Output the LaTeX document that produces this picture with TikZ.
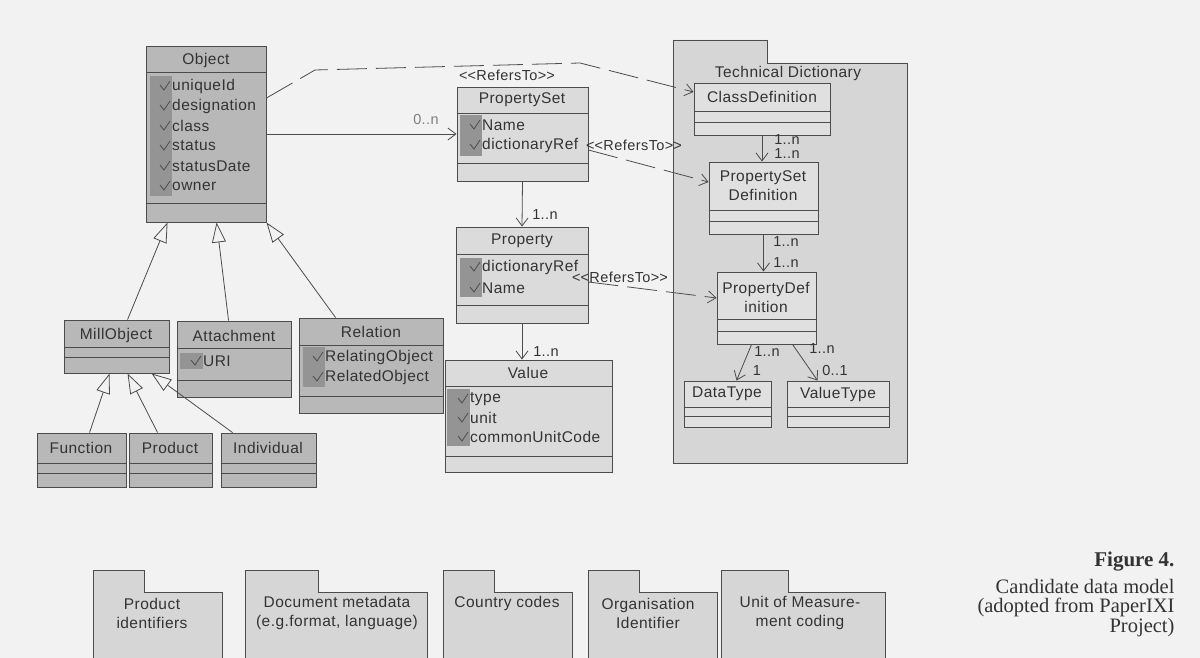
\documentclass[tikz,border=0pt]{standalone}
\usepackage{fontspec}
\setmainfont{Liberation Sans}[LetterSpace=3]
\newfontfamily\capfont{Liberation Serif}
\usetikzlibrary{arrows.meta}

\definecolor{bgcol}{gray}{0.95}
\definecolor{darkbox}{gray}{0.72}
\definecolor{lightbox}{gray}{0.86}
\definecolor{innerbox}{gray}{0.88}
\definecolor{pkgfill}{gray}{0.84}
\definecolor{stripcol}{gray}{0.58}
\definecolor{linecol}{gray}{0.3}
\definecolor{textcol}{gray}{0.2}

\tikzset{
    tick/.pic={\draw[linecol, line width=0.8pt] (-5,-1) -- (-1,4) -- (5,-5);}
}

\begin{document}
\begin{tikzpicture}[x=1pt, y=-1pt,
        box/.style={draw=linecol, line width=0.9pt, inner sep=0pt},
        clsname/.style={text=textcol, font=\fontsize{15.5}{19}\selectfont, inner sep=1pt, align=center},
        attr/.style={text=textcol, font=\fontsize{15.5}{18}\selectfont, anchor=west, inner sep=0pt},
        mult/.style={text=textcol, font=\fontsize{14.5}{16}\selectfont, inner sep=1pt},
        divider/.style={draw=linecol, line width=0.6pt},
        pkg/.style={draw=linecol, line width=0.9pt, fill=pkgfill},
        assoc/.style={draw=linecol, line width=0.8pt, -{Straight Barb[length=8pt, width=12pt]}},
        refers/.style={assoc, dash pattern=on 30pt off 9pt},
        inherit/.style={draw=linecol, line width=0.8pt, -{Triangle[open, length=20pt, width=14pt]}}]

        \clip (0,0) rectangle (1200,658);
        \fill[bgcol] (0,0) rectangle (1200,658);

        % packages
        \draw[pkg] (673,463) -- (673,40) -- (767,40) -- (767,63) -- (907,63) -- (907,463) -- cycle;
        \node[clsname] (techdict) at (788,73) {Technical Dictionary};

        \draw[pkg] (93,665) -- (93,570) -- (144,570) -- (144,592) -- (222,592) -- (222,665) -- cycle;
        \draw[pkg] (245,665) -- (245,570) -- (318,570) -- (318,592) -- (427,592) -- (427,665) -- cycle;
        \draw[pkg] (443,665) -- (443,570) -- (494,570) -- (494,592) -- (572,592) -- (572,665) -- cycle;
        \draw[pkg] (588,665) -- (588,570) -- (639,570) -- (639,592) -- (717,592) -- (717,665) -- cycle;
        \draw[pkg] (721,665) -- (721,570) -- (788,570) -- (788,592) -- (885,592) -- (885,665) -- cycle;

        \node[clsname] (prodid) at (152,613) {Product\\identifiers};
        \node[clsname] (docmeta) at (337,613) {Document metadata\\(e.g.format, language)};
        \node[clsname] (country) at (507,603) {Country codes};
        \node[clsname] (orgid) at (648,613) {Organisation\\Identifier};
        \node[clsname] (uom) at (800,613) {Unit of Measure-\\ment coding};

        % classes
        \node[box, fill=darkbox, minimum width=120, minimum height=176] (object) at (206,134) {};
        \node[box, fill=lightbox, minimum width=131, minimum height=94] (propset) at (522.5,134) {};
        \node[box, fill=lightbox, minimum width=132, minimum height=96] (property) at (522,275) {};
        \node[box, fill=lightbox, minimum width=167, minimum height=112] (value) at (528.5,416) {};

        \node[box, fill=innerbox, minimum width=136, minimum height=52] (classdef) at (762,109) {};
        \node[box, fill=innerbox, minimum width=109, minimum height=72] (psdef) at (763.5,198) {};
        \node[box, fill=innerbox, minimum width=99, minimum height=72] (pdef) at (766.5,308) {};
        \node[box, fill=innerbox, minimum width=87, minimum height=46] (datatype) at (727.5,404) {};
        \node[box, fill=innerbox, minimum width=102, minimum height=46] (valuetype) at (838,404) {};

        \node[box, fill=darkbox, minimum width=105, minimum height=53] (millobj) at (116.5,346.5) {};
        \node[box, fill=darkbox, minimum width=114, minimum height=76] (attach) at (234,359) {};
        \node[box, fill=darkbox, minimum width=144, minimum height=95] (relation) at (371,365.5) {};
        \node[box, fill=darkbox, minimum width=89, minimum height=54] (function) at (81.5,460) {};
        \node[box, fill=darkbox, minimum width=83, minimum height=54] (product) at (170.5,460) {};
        \node[box, fill=darkbox, minimum width=95, minimum height=54] (individual) at (268.5,460) {};

        % compartments
        \draw[divider] (object.west |- 0,72) -- (object.east |- 0,72);
        \draw[divider] (object.west |- 0,203) -- (object.east |- 0,203);
        \draw[divider] (propset.west |- 0,113) -- (propset.east |- 0,113);
        \draw[divider] (propset.west |- 0,163) -- (propset.east |- 0,163);
        \draw[divider] (property.west |- 0,254) -- (property.east |- 0,254);
        \draw[divider] (property.west |- 0,305) -- (property.east |- 0,305);
        \draw[divider] (value.west |- 0,386) -- (value.east |- 0,386);
        \draw[divider] (value.west |- 0,456) -- (value.east |- 0,456);
        \draw[divider] (classdef.west |- 0,111) -- (classdef.east |- 0,111);
        \draw[divider] (classdef.west |- 0,122) -- (classdef.east |- 0,122);
        \draw[divider] (psdef.west |- 0,210) -- (psdef.east |- 0,210);
        \draw[divider] (psdef.west |- 0,221) -- (psdef.east |- 0,221);
        \draw[divider] (pdef.west |- 0,319) -- (pdef.east |- 0,319);
        \draw[divider] (pdef.west |- 0,331) -- (pdef.east |- 0,331);
        \draw[divider] (datatype.west |- 0,407) -- (datatype.east |- 0,407);
        \draw[divider] (datatype.west |- 0,416) -- (datatype.east |- 0,416);
        \draw[divider] (valuetype.west |- 0,407) -- (valuetype.east |- 0,407);
        \draw[divider] (valuetype.west |- 0,416) -- (valuetype.east |- 0,416);
        \draw[divider] (millobj.west |- 0,347) -- (millobj.east |- 0,347);
        \draw[divider] (millobj.west |- 0,357) -- (millobj.east |- 0,357);
        \draw[divider] (attach.west |- 0,348) -- (attach.east |- 0,348);
        \draw[divider] (attach.west |- 0,380) -- (attach.east |- 0,380);
        \draw[divider] (relation.west |- 0,345) -- (relation.east |- 0,345);
        \draw[divider] (relation.west |- 0,396) -- (relation.east |- 0,396);
        \foreach \c in {function, product, individual} {
            \draw[divider] (\c.west |- 0,463) -- (\c.east |- 0,463);
            \draw[divider] (\c.west |- 0,473) -- (\c.east |- 0,473);
        }

        % attribute strips
        \fill[stripcol] (150,76) rectangle (172,196);
        \fill[stripcol] (460,115) rectangle (482,156);
        \fill[stripcol] (460,258) rectangle (482,297);
        \fill[stripcol] (447,389) rectangle (470,446);
        \fill[stripcol] (180,353) rectangle (203,369);
        \fill[stripcol] (303,347) rectangle (325,387);

        % names
        \node[clsname] (object-t) at (206,60) {Object};
        \node[clsname] (propset-t) at (522,100) {PropertySet};
        \node[clsname] (property-t) at (522,241) {Property};
        \node[clsname] (value-t) at (528,373) {Value};
        \node[clsname] (classdef-t) at (762,97) {ClassDefinition};
        \node[clsname] (psdef-t) at (763,186) {PropertySet\\Definition};
        \node[clsname] (pdef-t) at (766,297) {PropertyDef\\inition};
        \node[clsname] (datatype-t) at (727,394) {DataType};
        \node[clsname] (valuetype-t) at (838,394) {ValueType};
        \node[clsname] (millobj-t) at (116,335) {MillObject};
        \node[clsname] (attach-t) at (234,336) {Attachment};
        \node[clsname] (relation-t) at (371,332) {Relation};
        \node[clsname] (function-t) at (81,448) {Function};
        \node[clsname] (product-t) at (170,448) {Product};
        \node[clsname] (individual-t) at (268,448) {Individual};

        % attributes
        \foreach \a [count=\i] in {uniqueId, designation, class, status, statusDate, owner} {
            \node[attr] (object-a\i) at (172,66+20*\i) {\a};
            \pic at (165,66+20*\i) {tick};
        }
        \foreach \a [count=\i] in {Name, dictionaryRef} {
            \node[attr] (propset-a\i) at (482,105+20*\i) {\a};
            \pic at (475,105+20*\i) {tick};
        }
        \foreach \a [count=\i] in {dictionaryRef, Name} {
            \node[attr] (property-a\i) at (482,246+21*\i) {\a};
            \pic at (475,246+21*\i) {tick};
        }
        \foreach \a [count=\i] in {type, unit, commonUnitCode} {
            \node[attr] (value-a\i) at (470,380+19*\i) {\a};
            \pic at (463,380+19*\i) {tick};
        }
        \node[attr] (attach-a1) at (203,361) {URI};
        \pic at (196,361) {tick};
        \foreach \a [count=\i] in {RelatingObject, RelatedObject} {
            \node[attr] (relation-a\i) at (325,337+20*\i) {\a};
            \pic at (318,337+20*\i) {tick};
        }

        % generalisations
        \draw[inherit] ([xshift=64pt]millobj.north west) -- ([xshift=22pt]object.south west);
        \draw[inherit] ([xshift=52pt]attach.north west) -- ([xshift=71pt]object.south west);
        \draw[inherit] ([xshift=37pt]relation.north west) -- (object.south east);
        \draw[inherit] ([xshift=53pt]function.north west) -- ([xshift=46pt]millobj.south west);
        \draw[inherit] ([xshift=29pt]product.north west) -- ([xshift=64pt]millobj.south west);
        \draw[inherit] ([xshift=12pt]individual.north west) -- ([xshift=88pt]millobj.south west);

        % associations
        \draw[assoc] (object.east) -- (propset.west);
        \node[mult, text=gray] (m0) at (426,120) {0..n};
        \draw[assoc] (propset.south) -- (property.north);
        \node[mult] (m1) at (545,215) {1..n};
        \draw[assoc] (property.south) -- (property.south |- value.north);
        \node[mult] (m2) at (546,352) {1..n};

        \draw[assoc] (classdef.south) -- (classdef.south |- psdef.north);
        \node[mult] (m3) at (787,140) {1..n};
        \node[mult] (m4) at (787,154) {1..n};
        \draw[assoc] (psdef.south) -- (psdef.south |- pdef.north);
        \node[mult] (m5) at (786,242) {1..n};
        \node[mult] (m6) at (786,263) {1..n};
        \draw[assoc] ([xshift=35pt]pdef.south west) -- ([xshift=53pt]datatype.north west);
        \node[mult] (m7) at (767,352) {1..n};
        \node[mult] (m8) at (757,371) {1};
        \draw[assoc] ([xshift=76pt]pdef.south west) -- ([xshift=31pt]valuetype.north west);
        \node[mult] (m9) at (822,349) {1..n};
        \node[mult] (m10) at (835,371) {0..1};

        % refers to
        \draw[refers] (object.east |- 0,98) -- (315,70) -- (580,63) -- (classdef.west |- 0,92);
        \node[mult] (r1) at (507,75) {<\kern0pt<RefersTo>\kern0pt>};
        \draw[refers] (propset.east |- 0,150) -- (psdef.west |- 0,182);
        \node[mult] (r2) at (634,145) {<\kern0pt<RefersTo>\kern0pt>};
        \draw[refers] (property.east |- 0,282) -- (pdef.west |- 0,298);
        \node[mult] (r3) at (620,277) {<\kern0pt<RefersTo>\kern0pt>};

        % caption
        \node[anchor=east, text=textcol, font=\capfont\bfseries\fontsize{21}{22}\selectfont] (fig) at (1178,562) {Figure 4.};
        \node[anchor=east, text=textcol, font=\capfont\fontsize{20.5}{21}\selectfont] (cap1) at (1178,586) {Candidate data model};
        \node[anchor=east, text=textcol, font=\capfont\fontsize{20.5}{21}\selectfont] (cap2) at (1178,607) {(adopted from PaperIXI};
        \node[anchor=east, text=textcol, font=\capfont\fontsize{20.5}{21}\selectfont] (cap3) at (1178,628) {Project)};
\end{tikzpicture}
\end{document}
